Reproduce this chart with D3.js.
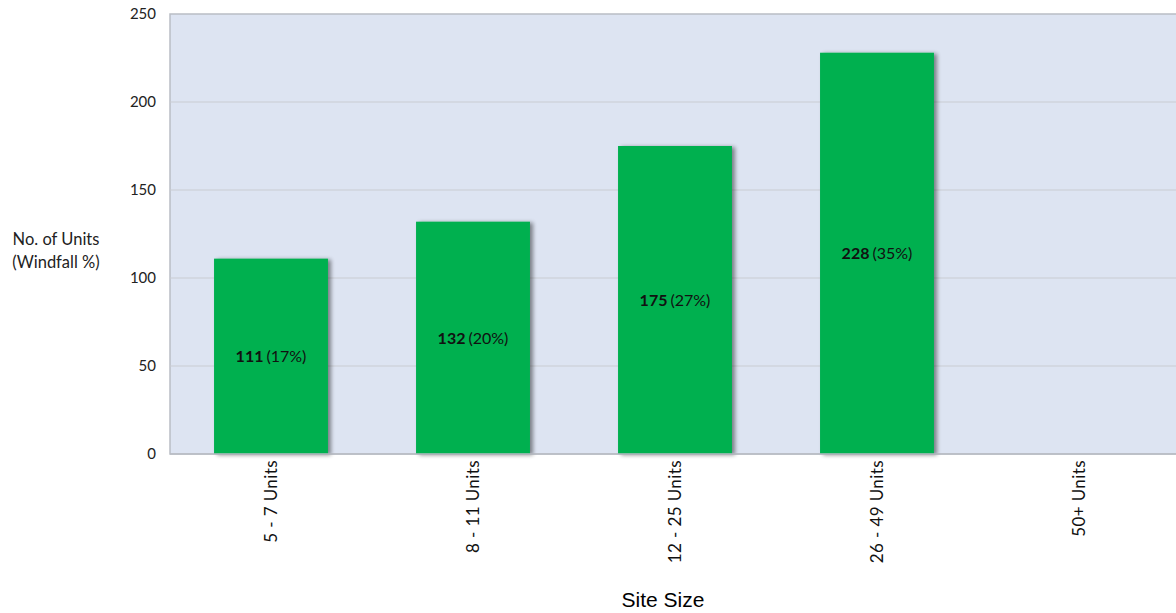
<!DOCTYPE html>
<html><head><meta charset="utf-8">
<script src="https://cdn.jsdelivr.net/npm/d3@7"></script>
<style>body{margin:0;background:#fff;}svg{display:block;}</style>
</head><body>
<svg id="c" width="1176" height="613"></svg>
<script>
const categories = ["5 - 7 Units","8 - 11 Units","12 - 25 Units","26 - 49 Units","50+ Units"];
const units = [111,132,175,228,null];
const pctLabels = ["(17%)","(20%)","(27%)","(35%)",""];
const yTicks = [0,50,100,150,200,250];

const svg = d3.select("#c");
const m = {left:170, top:14, right:1180, bottom:454};
const x = d3.scaleBand().domain(categories).range([m.left,m.right]).paddingInner(0.436).paddingOuter(0.218);
const y = d3.scaleLinear().domain([0,250]).range([m.bottom,m.top]);

const defs = svg.append("defs");
const f = defs.append("filter").attr("id","sh").attr("x","-10%").attr("y","-5%").attr("width","130%").attr("height","115%");
f.append("feGaussianBlur").attr("in","SourceAlpha").attr("stdDeviation",2).attr("result","b");
f.append("feOffset").attr("in","b").attr("dx",3).attr("dy",1).attr("result","o");
f.append("feComponentTransfer").attr("in","o").attr("result","o2").append("feFuncA").attr("type","linear").attr("slope",0.45);
const mg = f.append("feMerge"); mg.append("feMergeNode").attr("in","o2"); mg.append("feMergeNode").attr("in","SourceGraphic");

svg.append("rect").attr("x",m.left).attr("y",m.top).attr("width",m.right-m.left).attr("height",m.bottom-m.top)
  .attr("fill","#dde4f2").attr("stroke","#b9bdc5").attr("stroke-width",1.5);

svg.append("g").selectAll("line").data(yTicks.filter(d=>d>0&&d<250)).join("line")
  .attr("x1",m.left).attr("x2",m.right).attr("y1",d=>y(d)).attr("y2",d=>y(d))
  .attr("stroke","#c9ccd2").attr("stroke-width",1.2);

const yAxis = svg.append("g").attr("transform",`translate(${m.left},0)`)
  .call(d3.axisLeft(y).tickValues(yTicks).tickSize(0).tickPadding(14));
yAxis.select(".domain").remove();
yAxis.selectAll("text").attr("font-family","Lato, 'Open Sans', sans-serif").attr("font-size",15).attr("fill","#222");

const data = categories.map((c,i)=>({c,v:units[i],p:pctLabels[i]})).filter(d=>d.v!=null);
svg.append("g").selectAll("rect").data(data).join("rect")
  .attr("x",d=>x(d.c)).attr("width",x.bandwidth())
  .attr("y",d=>y(d.v)).attr("height",d=>y(0)-y(d.v))
  .attr("fill","#00b050").attr("filter","url(#sh)");

svg.append("line").attr("x1",m.left).attr("x2",m.right).attr("y1",y(0)).attr("y2",y(0)).attr("stroke","#b9bdc5").attr("stroke-width",1.5);

const lab = svg.append("g").selectAll("text").data(data).join("text")
  .attr("x",d=>x(d.c)+x.bandwidth()/2).attr("y",d=>y(d.v/2)+6)
  .attr("text-anchor","middle").attr("font-family","Lato, 'Open Sans', sans-serif").attr("font-size",16).attr("fill","#111");
lab.append("tspan").attr("font-weight","bold").text(d=>d.v);
lab.append("tspan").attr("dx",3).text(d=>d.p);

svg.append("g").selectAll("text").data(categories).join("text")
  .attr("transform",d=>`translate(${x(d)+x.bandwidth()/2+6},460) rotate(-90)`)
  .attr("text-anchor","end").attr("font-family","Lato, sans-serif").attr("font-size",17).attr("letter-spacing",0.4).attr("fill","#111")
  .text(d=>d);

const yt = svg.append("text").attr("text-anchor","middle").attr("font-family","Lato, 'Open Sans', sans-serif").attr("font-size",16.5).attr("fill","#222");
yt.append("tspan").attr("x",56).attr("y",245).text("No. of Units");
yt.append("tspan").attr("x",56).attr("y",268).text("(Windfall %)");

svg.append("text").attr("x",663).attr("y",607).attr("text-anchor","middle").attr("font-family","'Liberation Sans', Arial, sans-serif").attr("font-size",21).attr("fill","#000").text("Site Size");
</script>
</body></html>
